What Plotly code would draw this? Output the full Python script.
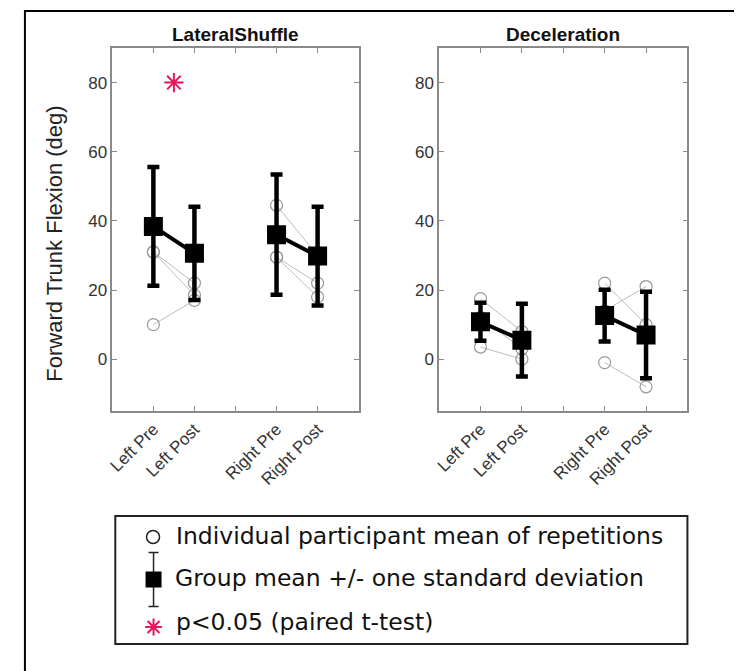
import plotly.graph_objects as go

W, H = 742, 671

# ---------------- data ----------------
tick_labels = ["Left Pre", "Left Post", "", "Right Pre", "Right Post"]
tick_pos = [1, 2, 3, 4, 5]
cond_pos = [1, 2, 4, 5]

panels = ["LateralShuffle", "Deceleration"]

ls_mean = [38.4, 30.6, 36.0, 29.8]
ls_sd = [17.2, 13.5, 17.4, 14.3]
dec_mean = [10.8, 5.5, 12.6, 7.0]
dec_sd = [5.5, 10.5, 7.5, 12.5]

# individual participants: [Left Pre, Left Post, Right Pre, Right Post]
ls_indiv = [
    [31.0, 22.0, 29.5, 22.0],
    [31.0, 18.5, 29.5, 18.0],
    [10.0, 17.0, 44.5, 30.0],
]
dec_indiv = [
    [17.5, 8.0, 22.0, 10.0],
    [3.5, 0.0, -1.0, -8.0],
    [12.0, 3.0, 14.0, 21.0],
]

sig_x = [1.5]
sig_y = [80]

legend_labels = [
    "Individual participant mean of repetitions",
    "Group mean +/- one standard deviation",
    "p<0.05 (paired t-test)",
]

# ---------------- figure ----------------
STAR = "#E8175D"
fig = go.Figure()

def px_x(p):
    return p / W

def px_y(p):
    return 1 - p / H

panel_data = [(ls_mean, ls_sd, ls_indiv), (dec_mean, dec_sd, dec_indiv)]
axes = [("x", "y"), ("x2", "y2")]

for (means, sds, indiv), (xa, ya) in zip(panel_data, axes):
    for p in indiv:
        xs = [cond_pos[0], cond_pos[1], None, cond_pos[2], cond_pos[3]]
        ys = [p[0], p[1], None, p[2], p[3]]
        fig.add_trace(go.Scatter(
            x=xs, y=ys, mode="lines+markers", xaxis=xa, yaxis=ya,
            line=dict(color="#bdbdbd", width=1),
            marker=dict(symbol="circle-open", size=12, color="#999999",
                        line=dict(width=1.2, color="#999999")),
            showlegend=False, hoverinfo="skip"))
    fig.add_trace(go.Scatter(
        x=[cond_pos[0], cond_pos[1], None, cond_pos[2], cond_pos[3]],
        y=[means[0], means[1], None, means[2], means[3]],
        mode="lines", xaxis=xa, yaxis=ya,
        line=dict(color="black", width=4),
        showlegend=False, hoverinfo="skip"))
    fig.add_trace(go.Scatter(
        x=cond_pos, y=means, mode="markers", xaxis=xa, yaxis=ya,
        marker=dict(symbol="square", size=19, color="black"),
        error_y=dict(type="data", array=sds, visible=True,
                     color="black", thickness=4.5, width=6),
        showlegend=False, hoverinfo="skip"))

# significance star
fig.add_trace(go.Scatter(
    x=sig_x, y=sig_y, mode="markers", xaxis="x", yaxis="y",
    marker=dict(symbol="asterisk-open", size=16, color=STAR,
                line=dict(color=STAR, width=2)),
    showlegend=False, hoverinfo="skip"))

# ---------------- legend (custom, own hidden axis) ----------------
lx0, lx1, ly0, ly1 = 103, 679, 508, 636
lw, lh = lx1 - lx0, ly1 - ly0
fig.add_trace(go.Scatter(
    x=[38], y=[ly1 - 529], mode="markers", xaxis="x3", yaxis="y3",
    marker=dict(symbol="circle-open", size=13, color="#222",
                line=dict(width=1.5, color="#222")),
    showlegend=False, hoverinfo="skip"))
fig.add_trace(go.Scatter(
    x=[38.5], y=[ly1 - 571.5], mode="markers", xaxis="x3", yaxis="y3",
    marker=dict(symbol="square", size=16, color="black"),
    error_y=dict(type="data", array=[27], visible=True,
                 color="#222", thickness=1.5, width=5),
    showlegend=False, hoverinfo="skip"))
fig.add_trace(go.Scatter(
    x=[38.5], y=[ly1 - 619], mode="markers", xaxis="x3", yaxis="y3",
    marker=dict(symbol="asterisk-open", size=14, color=STAR,
                line=dict(color=STAR, width=2)),
    showlegend=False, hoverinfo="skip"))

legend_y = [ly1 - 528, ly1 - 570, ly1 - 614]
legend_x = [59, 58, 59]
annotations = []
for t, yy, xx in zip(legend_labels, legend_y, legend_x):
    annotations.append(dict(
        x=xx, y=yy, xref="x3", yref="y3", text=t, showarrow=False,
        xanchor="left", yanchor="middle",
        font=dict(family="DejaVu Sans, Noto Sans, Arial", size=23.5, color="#111")))

# panel titles
title_font = dict(family="Liberation Sans Narrow, Liberation Sans, Arial", size=19, color="#111")
annotations.append(dict(x=px_x(224), y=px_y(26), xref="paper", yref="paper",
                        text="<b>LateralShuffle</b>", showarrow=False,
                        xanchor="center", yanchor="middle", font=title_font))
annotations.append(dict(x=px_x(554), y=px_y(26), xref="paper", yref="paper",
                        text="<b>Deceleration</b>", showarrow=False,
                        xanchor="center", yanchor="middle", font=title_font))
# y axis title
annotations.append(dict(x=px_x(41), y=px_y(236), xref="paper", yref="paper",
                        text="Forward Trunk Flexion (deg)", showarrow=False,
                        textangle=-90, xanchor="center", yanchor="middle",
                        font=dict(family="Liberation Sans, Arial", size=22, color="#222")))

shapes = [
    dict(type="rect", xref="paper", yref="paper",
         x0=px_x(12), x1=1.02, y0=-0.02, y1=px_y(3),
         line=dict(color="black", width=2), fillcolor="rgba(0,0,0,0)"),
    dict(type="rect", xref="paper", yref="paper",
         x0=px_x(lx0), x1=px_x(lx1), y0=px_y(ly1), y1=px_y(ly0),
         line=dict(color="#222", width=2), fillcolor="rgba(0,0,0,0)"),
]

axis_common = dict(
    showline=True, linecolor="#8a8a8a", linewidth=1.5, mirror="ticks",
    ticks="inside", ticklen=5, tickcolor="#8a8a8a", showgrid=False,
    zeroline=False, tickfont=dict(family="Liberation Sans, Arial", size=17, color="#333"),
)

y_dom = [px_y(403), px_y(40)]
fig.update_layout(
    width=W, height=H, margin=dict(l=0, r=0, t=0, b=0),
    paper_bgcolor="white", plot_bgcolor="white",
    showlegend=False,
    xaxis=dict(domain=[px_x(100), px_x(348)], range=[0, 6], tickvals=tick_pos,
               ticktext=tick_labels, tickangle=-45, anchor="y", **axis_common),
    yaxis=dict(domain=y_dom, range=[-15, 90], tickvals=[0, 20, 40, 60, 80],
               anchor="x", **axis_common),
    xaxis2=dict(domain=[px_x(429), px_x(679)], range=[0, 6], tickvals=tick_pos,
                ticktext=tick_labels, tickangle=-45, anchor="y2", **axis_common),
    yaxis2=dict(domain=y_dom, range=[-15, 90], tickvals=[0, 20, 40, 60, 80],
                anchor="x2", **axis_common),
    xaxis3=dict(domain=[px_x(lx0), px_x(lx1)], range=[0, lw], visible=False,
                anchor="y3", fixedrange=True),
    yaxis3=dict(domain=[px_y(ly1), px_y(ly0)], range=[0, lh], visible=False,
                anchor="x3", fixedrange=True),
    annotations=annotations,
    shapes=shapes,
)

fig.write_html("out.html")
